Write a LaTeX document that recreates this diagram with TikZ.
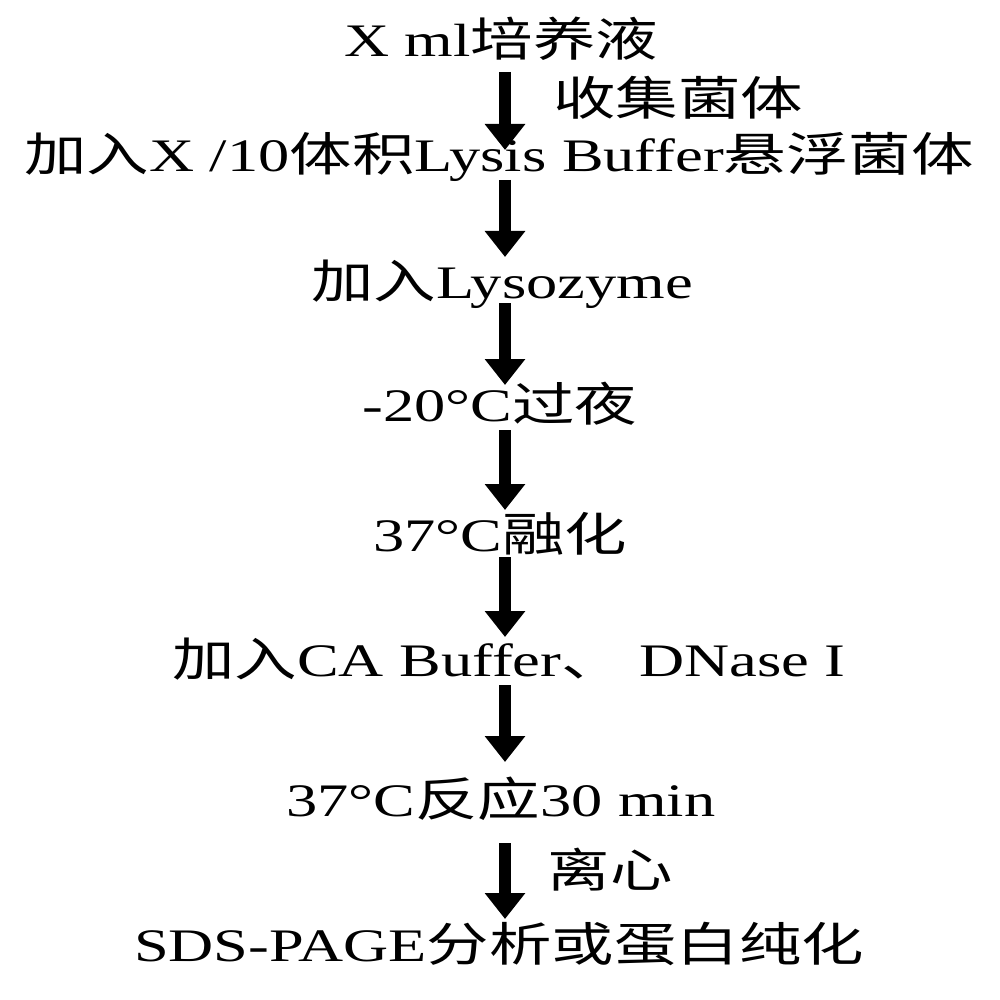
\documentclass[tikz,border=0pt]{standalone}
\usepackage{fontspec}
\usepackage{graphicx}
\setmainfont{Liberation Serif}
\newfontfamily\cjkfam{Noto Sans CJK SC}
\newcommand{\zh}[1]{{\cjkfam #1}}
\usetikzlibrary{arrows.meta}
\newcommand{\wide}[1]{\scalebox{1.34}[1]{#1}}
\tikzset{
  stepbox/.style={inner sep=0pt, anchor=base, font=\fontsize{23.3}{28}\selectfont},
  sidelabel/.style={inner sep=0pt, anchor=center, font=\fontsize{23.3}{28}\selectfont},
  flowarrow/.style={line width=6pt, -{Triangle[width=19.5pt,length=13pt]}}
}
\begin{document}
\begin{tikzpicture}[x=0.5pt,y=-0.5pt]
\useasboundingbox (0,0) rectangle (1000,1000);
\node[stepbox] (n1) at (501,57) {\wide{X ml\zh{培养液}}};
\node[stepbox] (n2) at (499,172) {\wide{\zh{加入}X /10\zh{体积}Lysis Buffer\zh{悬浮菌体}}};
\node[stepbox] (n3) at (502,298) {\wide{\zh{加入}Lysozyme}};
\node[stepbox] (n4) at (500,421) {\wide{-20°C\zh{过夜}}};
\node[stepbox] (n5) at (500,551) {\wide{37°C\zh{融化}}};
\node[stepbox] (n6) at (509,676) {\wide{\zh{加入}CA Buffer\zh{、} DNase I}};
\node[stepbox] (n7) at (501,816) {\wide{37°C\zh{反应}30 min}};
\node[stepbox] (n8) at (499,961) {\wide{SDS-PAGE\zh{分析或蛋白纯化}}};
\node[sidelabel] (l1) at (678,98) {\wide{\zh{收集菌体}}};
\node[sidelabel] (l2) at (610,870) {\wide{\zh{离心}}};
\draw[flowarrow] ([xshift=2pt,yshift=-7.5pt]n1.base) -- ([xshift=3pt,yshift=11pt]n2.base);
\draw[flowarrow] ([xshift=3pt,yshift=-4pt]n2.base) -- ([xshift=1.5pt,yshift=20.5pt]n3.base);
\draw[flowarrow] ([xshift=1.5pt,yshift=-2.5pt]n3.base) -- ([xshift=2.5pt,yshift=18pt]n4.base);
\draw[flowarrow] ([xshift=2.5pt,yshift=-4.5pt]n4.base) -- ([xshift=2.5pt,yshift=20.5pt]n5.base);
\draw[flowarrow] ([xshift=2.5pt,yshift=-3pt]n5.base) -- ([xshift=-2pt,yshift=19.5pt]n6.base);
\draw[flowarrow] ([xshift=-2pt,yshift=-4.5pt]n6.base) -- ([xshift=2pt,yshift=27pt]n7.base);
\draw[flowarrow] ([xshift=2pt,yshift=-13.5pt]n7.base) -- ([xshift=3pt,yshift=21pt]n8.base);
\end{tikzpicture}
\end{document}
